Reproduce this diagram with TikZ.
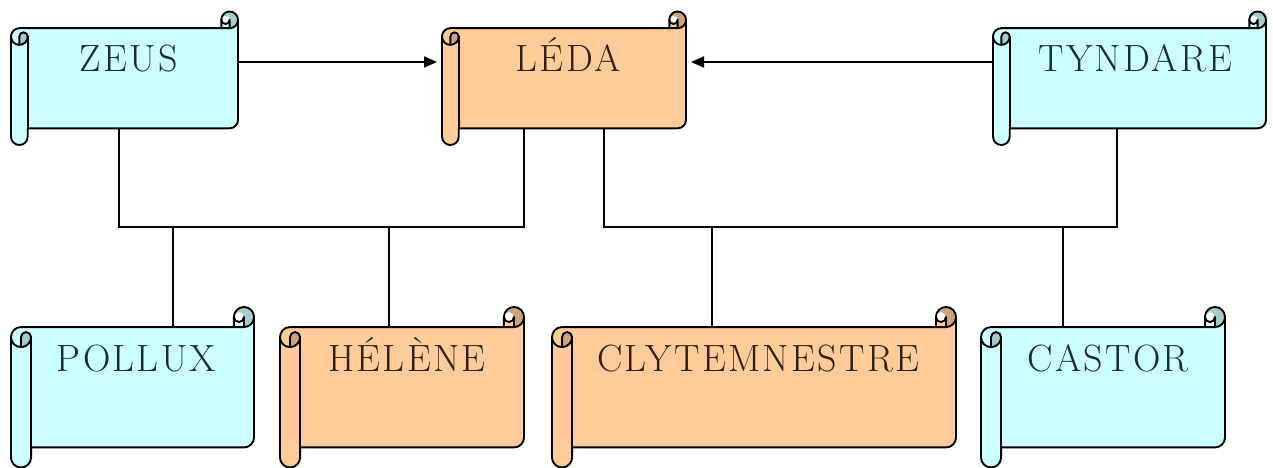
\documentclass[tikz,border=0pt]{standalone}
\usepackage{fontspec}
\setmainfont{Latin Modern Roman}[LetterSpace=6]
\usetikzlibrary{arrows.meta}
\definecolor{cyanfill}{HTML}{CCFFFF}
\definecolor{cyandark}{HTML}{A3CCCC}
\definecolor{orfill}{HTML}{FFCC99}
\definecolor{ordark}{HTML}{CCA37A}
\definecolor{cyantext}{HTML}{172E2E}
\definecolor{ortext}{HTML}{30200E}
% scroll shape: #1 L, #2 top, #3 R, #4 bottom, #5 roll size c, #6 light, #7 dark
\newcommand\drawscroll[7]{%
  \pgfmathsetmacro\sH{#5/2}\pgfmathsetmacro\sQ{#5/4}%
  \pgfmathsetmacro\sXa{#1+#5/2}\pgfmathsetmacro\sXb{#1+#5}%
  \pgfmathsetmacro\sXc{#3-#5}\pgfmathsetmacro\sXd{#3-#5/2}%
  \pgfmathsetmacro\sYa{#2+#5/2}\pgfmathsetmacro\sYb{#2+#5}%
  \pgfmathsetmacro\sYc{#2+1.5*#5}\pgfmathsetmacro\sYd{#2+2*#5}%
  \pgfmathsetmacro\sYe{#4-1.5*#5}\pgfmathsetmacro\sYf{#4-#5}%
  \pgfmathsetmacro\sYg{#4-#5/2}%
  \fill[#6] (#3,\sYa) arc[start angle=0,end angle=90,radius=\sH] -- (\sXd,\sYa)
    arc[start angle=0,end angle=180,radius=\sQ] -- (\sXc,\sYb) -- (\sXa,\sYb)
    arc[start angle=270,end angle=180,radius=\sH] -- (#1,\sYg)
    arc[start angle=180,end angle=0,radius=\sH] -- (\sXb,\sYf) -- (\sXd,\sYf)
    arc[start angle=90,end angle=0,radius=\sH] -- cycle;
  \fill[#7] (\sXa,\sYd) arc[start angle=90,end angle=0,radius=\sH]
    arc[start angle=0,end angle=-180,radius=\sQ] -- cycle;
  \fill[#7] (\sXd,\sYb) arc[start angle=90,end angle=-180,radius=\sH]
    arc[start angle=180,end angle=360,radius=\sQ] -- cycle;
  \draw[outl] (#1,\sYc) arc[start angle=180,end angle=270,radius=\sH] -- (\sXc,\sYb)
    -- (\sXc,\sYa) arc[start angle=180,end angle=360,radius=\sH] -- (#3,\sYe)
    arc[start angle=0,end angle=90,radius=\sH] -- (\sXb,\sYf) -- (\sXb,\sYg)
    arc[start angle=0,end angle=180,radius=\sH] -- cycle;
  \draw[outl] (\sXc,\sYb) -- (\sXd,\sYb) arc[start angle=90,end angle=0,radius=\sH];
  \draw[outl] (\sXd,\sYb) -- (\sXd,\sYa) arc[start angle=0,end angle=180,radius=\sQ];
  \draw[outl] (\sXa,\sYd) -- (\sXa,\sYc) arc[start angle=180,end angle=360,radius=\sQ]
    arc[start angle=0,end angle=180,radius=\sH];
  \draw[outl] (\sXb,\sYc) -- (\sXb,\sYf);
}
\begin{document}
\begin{tikzpicture}[x=1pt,y=-1pt,
  outl/.style={draw=black,line width=1.9pt,line join=round,line cap=round},
  body/.style={rectangle,draw=none,inner sep=0pt,outer sep=0pt},
  lbl/.style={font=\fontsize{38}{40}\selectfont,inner sep=0pt,anchor=base},
  conn/.style={draw=black,line width=1.8pt},
  arr/.style={conn,-{Triangle[length=13pt,width=11pt]},shorten >=5pt}]
\useasboundingbox (0,0) rectangle (1273,468);
% top row
\drawscroll{11}{11.5}{238}{145}{16.7}{cyanfill}{cyandark}
\drawscroll{442}{11.5}{686}{145}{16.7}{orfill}{ordark}
\drawscroll{993}{11.5}{1266}{145}{16.7}{cyanfill}{cyandark}
% bottom row
\drawscroll{11}{307}{254}{467.5}{20.06}{cyanfill}{cyandark}
\drawscroll{280}{307}{524}{467.5}{20.06}{orfill}{ordark}
\drawscroll{552}{307}{956}{467.5}{20.06}{orfill}{ordark}
\drawscroll{981}{307}{1225}{467.5}{20.06}{cyanfill}{cyandark}
% nodes (scroll bodies)
\node[body,minimum width=227pt,minimum height=100.1pt] (zeus) at (124.5,78.25) {};
\node[body,minimum width=244pt,minimum height=100.1pt] (leda) at (564,78.25) {};
\node[body,minimum width=273pt,minimum height=100.1pt] (tyndare) at (1129.5,78.25) {};
\node[body,minimum width=243pt,minimum height=120.4pt] (pollux) at (132.5,387.25) {};
\node[body,minimum width=244pt,minimum height=120.4pt] (helene) at (402,387.25) {};
\node[body,minimum width=404pt,minimum height=120.4pt] (clyt) at (754,387.25) {};
\node[body,minimum width=244pt,minimum height=120.4pt] (castor) at (1103,387.25) {};
% labels
\node[lbl,text=cyantext] (zeus-t) at (128.7,71.5) {ZEUS};
\node[lbl,text=ortext] (leda-t) at (568.2,71.5) {LÉDA};
\node[lbl,text=cyantext] (tyndare-t) at (1135.5,71.5) {TYNDARE};
\node[lbl,text=cyantext] (pollux-t) at (136.5,371) {POLLUX};
\node[lbl,text=ortext] (helene-t) at (407,371) {HÉLÈNE};
\node[lbl,text=ortext] (clyt-t) at (758,371) {CLYTEMNESTRE};
\node[lbl,text=cyantext] (castor-t) at (1108,371) {CASTOR};
% connectors
\draw[arr] ([yshift=16.25pt]zeus.east) -- ([yshift=16.25pt]leda.west);
\draw[arr] ([yshift=16.25pt]tyndare.west) -- ([yshift=16.25pt]leda.east);
\draw[conn] ([xshift=-5.5pt]zeus.south) -- ++(0,98.7) -| ([xshift=-40pt]leda.south);
\draw[conn] ([xshift=40pt]leda.south) -- ++(0,98.7) -| ([xshift=-12.5pt]tyndare.south);
\draw[conn] ([xshift=40.5pt]pollux.north) -- ++(0,-100.05);
\draw[conn] ([xshift=-13pt]helene.north) -- ++(0,-100.05);
\draw[conn] ([xshift=-42pt]clyt.north) -- ++(0,-100.05);
\draw[conn] ([xshift=-40pt]castor.north) -- ++(0,-100.05);
\end{tikzpicture}
\end{document}
